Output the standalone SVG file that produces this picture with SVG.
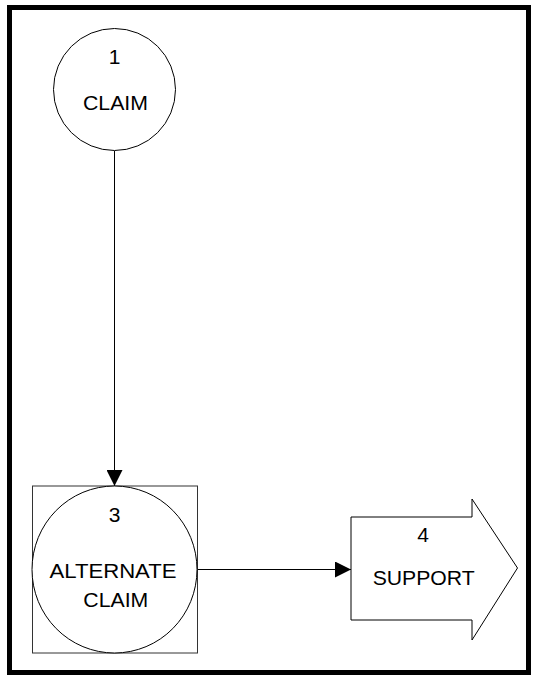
<svg xmlns="http://www.w3.org/2000/svg" width="534" height="677" viewBox="0 0 534 677">
  <style>
    .shape { fill: #ffffff; stroke: #000000; stroke-width: 1; }
    .box { fill: none; stroke: #333333; stroke-width: 1; }
    .label { font-family: "Liberation Sans", Arial, sans-serif; font-size: 21px; fill: #000000; }
    .mid { text-anchor: middle; }
    .edge { fill: none; stroke: #000000; stroke-width: 1; }
  </style>
  <defs>
    <marker id="arrow" viewBox="0 0 16 16" refX="16" refY="8" markerWidth="16" markerHeight="16" markerUnits="userSpaceOnUse" orient="auto">
      <path d="M0,0 L16,8 L0,16 Z" fill="#000000"/>
    </marker>
  </defs>

  <rect x="0" y="0" width="534" height="677" fill="#ffffff"/>
  <!-- outer frame -->
  <rect x="9.5" y="7.5" width="519" height="665" fill="none" stroke="#000000" stroke-width="5"/>

  <g id="connectors">
    <line class="edge" x1="114.5" y1="151" x2="114.5" y2="486" marker-end="url(#arrow)"/>
    <line class="edge" x1="197" y1="569.5" x2="351" y2="569.5" marker-end="url(#arrow)"/>
  </g>

  <g id="node1">
    <circle class="shape" cx="114.5" cy="89.5" r="61"/>
    <text class="label mid" x="114.5" y="64">1</text>
    <text class="label" x="83" y="110" textLength="65" lengthAdjust="spacingAndGlyphs">CLAIM</text>
  </g>

  <g id="node3">
    <rect class="box" x="32.5" y="486" width="165" height="167"/>
    <ellipse class="shape" cx="114.5" cy="569.5" rx="82.5" ry="83.5"/>
    <text class="label mid" x="114.5" y="521.7">3</text>
    <text class="label" x="49.5" y="578" textLength="127" lengthAdjust="spacingAndGlyphs">ALTERNATE</text>
    <text class="label" x="83.3" y="606.5" textLength="65" lengthAdjust="spacingAndGlyphs">CLAIM</text>
  </g>

  <g id="node4">
    <polygon class="shape" points="351,517 472,517 472,499 517.5,568 472,640 472,620 351,620"/>
    <text class="label mid" x="423" y="542">4</text>
    <text class="label" x="372.7" y="585" textLength="102" lengthAdjust="spacingAndGlyphs">SUPPORT</text>
  </g>
</svg>
